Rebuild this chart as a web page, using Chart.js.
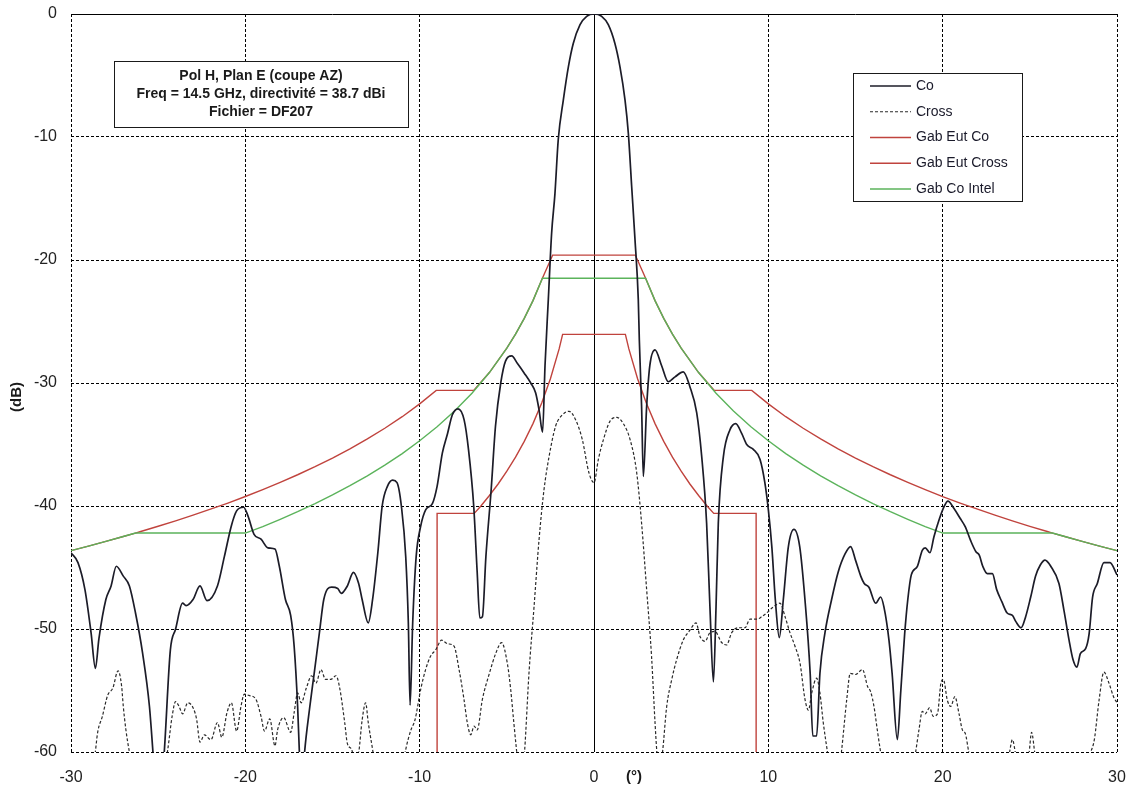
<!DOCTYPE html>
<html>
<head>
<meta charset="utf-8">
<script src="https://cdn.jsdelivr.net/npm/chart.js@4.4.1/dist/chart.umd.min.js"></script>
<style>
    html, body { margin: 0; padding: 0; background: #ffffff; }
    #chartBox { width: 1135px; height: 792px; }
</style>
</head>
<body>
<div id="chartBox"><canvas id="pattern" width="1135" height="792"></canvas></div>
<script>
// Axis ticks
const angleTicks = [-30, -20, -10, 0, 10, 20, 30];
const levelTicks = [-60, -50, -40, -30, -20, -10, 0];

// Measured co-polar pattern (deg, dB)
const coAngle = [
    -30, -29.6, -29.2, -28.85, -28.6, -28.4, -28.0, -27.7, -27.4, -27.0, -26.65, -26.3, -25.9, -25.5, -25.3, -25.0, -24.65,
    -24.3, -24.0, -23.6, -23.4, -23.0, -22.6, -22.2, -21.6, -21.2, -20.8, -20.5, -20.1, -19.85, -19.5, -19.1, -18.7, -18.3,
    -18.05, -17.7, -17.4, -17.2, -17.0, -16.9, -16.75, -16.6, -16.3, -16.05, -15.75, -15.5, -15.05, -14.7, -14.5, -14.15,
    -13.8, -13.5, -13.3, -12.95, -12.7, -12.4, -12.15, -11.85, -11.55, -11.3, -11.05, -10.8, -10.65, -10.55, -10.4, -10.2,
    -9.95, -9.65, -9.27, -9.0, -8.7, -8.4, -8.13, -7.8, -7.45, -7.2, -6.9, -6.7, -6.55, -6.4, -6.2, -5.9, -5.65, -5.35,
    -5.07, -4.72, -4.4, -4.0, -3.63, -3.35, -3.15, -2.95, -2.81, -2.62, -2.43, -2.24, -2.05, -1.76, -1.47, -1.19, -0.8,
    -0.42, 0, 0.44, 0.82, 1.2, 1.49, 1.78, 1.97, 2.16, 2.35, 2.54, 2.6, 2.73, 2.83, 3.02, 3.2, 3.5, 3.88, 4.26, 4.65, 5.12,
    5.5, 5.89, 6.18, 6.46, 6.65, 6.85, 7.0, 7.13, 7.42, 7.8, 8.13, 8.47, 8.76, 9.14, 9.52, 9.8, 10.0, 10.2, 10.4, 10.63,
    10.86, 11.15, 11.47, 11.8, 12.1, 12.4, 12.55, 12.77, 12.96, 13.25, 13.63, 14.0, 14.4, 14.72, 15.0, 15.3, 15.5, 15.77,
    16.16, 16.44, 16.63, 16.92, 17.1, 17.4, 17.6, 17.82, 18.0, 18.2, 18.55, 18.83, 19.0, 19.27, 19.5, 19.8, 20.08, 20.3,
    20.65, 21.0, 21.3, 21.6, 21.9, 22.1, 22.3, 22.56, 22.85, 23.1, 23.4, 23.7, 24.0, 24.2, 24.5, 24.76, 25.05, 25.33, 25.6,
    25.87, 26.2, 26.67, 26.96, 27.25, 27.48, 27.7, 27.9, 28.2, 28.4, 28.6, 28.87, 29.25, 29.6, 30.0
];
const coLevel = [
    -43.8, -44.6, -46.8, -50.3, -53.2, -50.8, -47.6, -46.5, -44.9, -45.7, -46.5, -48.7, -51.9, -56.3, -60, -66, -60,
    -51.7, -50.0, -47.9, -48.1, -47.6, -46.5, -47.7, -46.5, -44.1, -41.6, -40.4, -40.1, -40.8, -42.3, -42.7, -43.4, -43.5,
    -44.9, -47.6, -48.9, -51.4, -56.3, -60, -63, -60, -56.3, -53.6, -50.3, -47.6, -46.6, -46.7, -47.1, -46.5,
    -45.4, -46.3, -47.6, -49.5, -47.6, -43.8, -40.0, -38.4, -37.9, -38.1, -40.0, -44.1, -49.5, -56.2, -49.5, -44.1,
    -41.7, -40.3, -39.8, -38.4, -35.7, -34.1, -32.6, -32.1, -33.0, -35.4, -40.0, -45.4, -49.1, -49.0, -44.1, -38.7, -33.5, -30.0,
    -28.2, -27.8, -28.4, -29.2, -30.0, -30.8, -32.2, -34.0, -28.6, -23.2, -17.8, -14.6, -10.2, -7.0, -4.3, -2.4, -0.87,
    -0.19, 0, -0.19, -0.87, -2.4, -4.3, -7.0, -9.7, -14.0, -18.3, -23.2, -26.5, -31.9, -37.6, -31.9, -28.6, -27.3, -28.6, -29.9, -29.5, -29.1,
    -30.3, -32.4, -36.0, -41.4, -48.2, -54.3, -48.2, -41.4, -36.0, -33.8, -33.3, -34.1, -35.0, -35.4, -36.2, -38.1, -40.3, -43.3, -47.6, -50.7,
    -47.6, -43.3, -41.9, -43.3, -47.6, -53.6, -58.7, -58.7, -53.6, -50.3, -47.6, -45.4, -43.9, -43.3, -44.4, -45.7, -46.3, -46.6,
    -47.9, -47.4, -48.2, -50.9, -53.6, -59.0, -55.0, -50.4, -47.6, -45.6, -44.9, -43.6, -43.4, -43.8, -42.5, -41.1, -40.05, -39.6,
    -40.2, -41.0, -41.7, -42.8, -43.7, -44.0, -44.9, -45.5, -45.5, -46.8, -47.8, -48.7, -48.9, -49.4, -49.9, -49.0, -47.4, -45.7, -44.8,
    -44.4, -44.9, -46.3, -48.5, -50.9, -52.5, -53.1, -52.0, -51.6, -50.4, -47.4, -46.3, -44.6, -44.6, -45.6
];

// Measured cross-polar pattern (deg, dB)
const crossAngle = [
    -30, -28.65, -28.47, -28.2, -27.9, -27.6, -27.3, -27.1, -27.0, -26.85, -26.65, -25.5, -24.45, -24.2, -24.0, -23.8, -23.6,
    -23.3, -23.0, -22.8, -22.6, -22.35, -21.97, -21.6, -21.35, -21.05, -20.8, -20.5, -20.25, -20.06, -19.8, -19.4, -19.1,
    -18.9, -18.6, -18.3, -18.15, -17.8, -17.4, -17.2, -17.0, -16.8, -16.5, -16.2, -15.95, -15.66, -15.4, -15.1, -14.8, -14.6,
    -14.3, -14.15, -13.9, -13.7, -13.5, -13.3, -13.1, -12.95, -12.7, -11.8, -10.8, -10.5, -10.27, -9.94, -9.66, -9.37, -9.08,
    -8.74, -8.4, -8.03, -7.74, -7.46, -7.27, -7.07, -6.88, -6.7, -6.4, -6.0, -5.64, -5.3, -4.97, -4.78, -4.6, -4.44, -4.2,
    -3.98, -3.73, -3.44, -3.15, -2.87, -2.58, -2.2, -1.82, -1.43, -1.05, -0.67, -0.29, 0, 0.25, 0.54, 0.92, 1.3, 1.68, 2.07,
    2.45, 2.73, 3.02, 3.3, 3.5, 3.6, 3.75, 3.94, 4.17, 4.46, 4.74, 5.12, 5.5, 5.85, 6.08, 6.37, 6.65, 6.94, 7.32, 7.6, 7.9,
    8.28, 8.66, 8.95, 9.33, 9.62, 9.9, 10.29, 10.67, 10.96, 11.24, 11.53, 11.82, 12.1, 12.3, 12.49, 12.77, 12.96, 13.15,
    13.38, 13.8, 14.2, 14.5, 14.7, 15.0, 15.4, 15.7, 15.87, 16.06, 16.25, 16.44, 17.4, 18.45, 18.64, 18.83, 19.0, 19.25,
    19.46, 19.7, 19.9, 20.04, 20.27, 20.46, 20.7, 20.94, 21.13, 21.3, 21.5, 22.7, 23.8, 24.0, 24.2, 24.6, 24.95, 25.1, 25.3,
    26.8, 28.5, 28.7, 28.97, 29.25, 29.54, 29.8, 30.0
];
const crossLevel = [
    -68, -60.5, -58.4, -57.1, -55.4, -54.8, -53.4, -54.6, -56.3, -58.2, -60, -68, -59.8, -57.1, -55.9, -56.3, -56.9,
    -56.0, -56.4, -57.3, -59.2, -58.6, -59.0, -57.6, -58.8, -56.8, -56.0, -58.3, -56.3, -55.3, -55.4, -55.7, -57.1,
    -58.3, -57.3, -59.5, -58.2, -57.2, -58.4, -56.8, -55.2, -56.0, -54.8, -53.8, -54.4, -53.3, -54.1, -54.1, -53.8, -54.7,
    -57.6, -59.3, -59.8, -61, -60.1, -57.4, -56.0, -57.6, -59.8, -68, -59.8, -58.2, -57.4, -54.9, -53.3, -52.2, -51.7,
    -50.9, -51.2, -51.4, -53.3, -55.7, -57.6, -58.6, -57.9, -58.2, -55.7, -53.6, -52.0, -51.1, -52.8, -54.9, -57.6, -59.9, -63,
    -59.9, -53.6, -48.2, -42.7, -38.7, -36.0, -33.5, -32.6, -32.3, -33.0, -34.6, -37.3, -38.1, -36.2, -34.6, -33.1, -32.8, -33.3, -34.6,
    -37.3, -41.4, -46.8, -52.2, -57.6, -59.9, -62, -59.9, -56.3, -54.1, -52.5, -50.9, -50.1, -49.5, -50.6, -51.0, -50.3, -50.2, -51.1, -51.3, -50.3,
    -49.9, -49.9, -49.2, -49.2, -49.0, -48.7, -48.2, -47.9, -49.0, -50.3, -51.4, -52.8, -55.7, -56.6, -55.2, -54.0, -55.2, -57.6,
    -59.9, -64, -59.9, -55.7, -53.6, -53.7, -53.3, -54.7, -55.1, -56.3, -58.2, -60, -68, -60, -58.2, -56.7, -56.9, -56.4,
    -57.1, -56.9, -54.4, -54.1, -55.8, -56.3, -55.5, -56.9, -58.2, -58.5, -60, -66, -60.3, -59.0, -60.3, -63, -60.2, -58.4, -60.2,
    -68, -60, -59.0, -55.8, -53.5, -54.4, -55.5, -56.0
];

// Eutelsat co-polar template
const gabEutCoAngle = [
    -30, -29, -28, -27, -26.3, -26, -25, -24, -23, -22, -21, -20, -19, -18, -17, -16, -15, -14, -13, -12, -11, -10, -9.05,
    -6.9, -6, -5, -4.5, -4, -3.5, -2.96, -2.37, 2.37, 2.96, 3.5, 4, 4.5, 5, 6, 6.9,
    9.05, 10, 11, 12, 13, 14, 15, 16, 17, 18, 19, 20, 21, 22, 23, 24, 25, 26, 26.3, 27, 28, 29, 30
];
const gabEutCoLevel = [
    -43.63, -43.26, -42.88, -42.48, -42.2, -42.07, -41.65, -41.21, -40.74, -40.26, -39.76, -39.23, -38.67, -38.08, -37.46,
    -36.8, -36.1, -35.35, -34.55, -33.68, -32.74, -31.7, -30.6,
    -30.6, -29.15, -27.17, -26.03, -24.75, -23.3, -21.48, -19.6, -19.6, -21.48, -23.3, -24.75, -26.03, -27.17, -29.15, -30.6,
    -30.6, -31.7, -32.74, -33.68, -34.55, -35.35, -36.1, -36.8, -37.46, -38.08, -38.67, -39.23, -39.76, -40.26, -40.74,
    -41.21, -41.65, -42.07, -42.2, -42.48, -42.88, -43.26, -43.63
];

// Eutelsat cross-polar template
const gabEutCrossAngle = [
    -9.0, -9.0, -6.87, -6.5, -6, -5.5, -5, -4.5, -4, -3.5, -3, -2.5, -2, -1.8,
    1.8, 2, 2.5, 3, 3.5, 4, 4.5, 5, 5.5, 6, 6.5, 6.87, 9.3, 9.3
];
const gabEutCrossLevel = [
    -60, -40.6, -40.6, -40.02, -39.15, -38.21, -37.17, -36.03, -34.75, -33.3, -31.63, -29.65, -27.23, -26.05,
    -26.05, -27.23, -29.65, -31.63, -33.3, -34.75, -36.03, -37.17, -38.21, -39.15, -40.02, -40.6, -40.6, -60
];

// Intelsat co-polar template
const gabIntelAngle = [
    -30, -29, -28, -27, -26.3, -20, -19, -18, -17, -16, -15, -14, -13, -12, -11, -10, -9, -8, -7, -6, -5, -4.5, -4, -3.5,
    -2.96, 2.96, 3.5, 4, 4.5, 5, 6, 7, 8, 9, 10, 11, 12, 13, 14, 15, 16, 17, 18, 19, 20, 26.3, 27, 28, 29, 30
];
const gabIntelLevel = [
    -43.63, -43.26, -42.88, -42.48, -42.2, -42.2, -41.67, -41.08, -40.46, -39.8, -39.1, -38.35, -37.55, -36.68, -35.74,
    -34.7, -33.56, -32.28, -30.83, -29.15, -27.17, -26.03, -24.75, -23.3, -21.48, -21.48, -23.3, -24.75, -26.03, -27.17,
    -29.15, -30.83, -32.28, -33.56, -34.7, -35.74, -36.68, -37.55, -38.35, -39.1, -39.8, -40.46, -41.08, -41.67, -42.2,
    -42.2, -42.48, -42.88, -43.26, -43.63
];

const infoLines = [
    'Pol H, Plan E (coupe AZ)',
    'Freq = 14.5 GHz, directivité = 38.7 dBi',
    'Fichier = DF207'
];

const FONT = "'Liberation Sans', Arial, sans-serif";
const RED = '#c0433d';
const GREEN = '#5bb35b';

function toPoints(xs, ys) {
    return xs.map((x, i) => ({ x: x, y: ys[i] }));
}

// Legend, info box and axis titles drawn on top
const overlayPlugin = {
    id: 'overlay',
    afterDraw(chart) {
        const ctx = chart.ctx;
        ctx.save();

        // info box
        ctx.fillStyle = '#ffffff';
        ctx.fillRect(114.5, 61.5, 294, 66);
        ctx.strokeStyle = '#1a1a1a';
        ctx.lineWidth = 1;
        ctx.setLineDash([]);
        ctx.strokeRect(114.5, 61.5, 294, 66);
        ctx.fillStyle = '#1a1a1a';
        ctx.font = `bold 14px ${FONT}`;
        ctx.textAlign = 'center';
        ctx.textBaseline = 'middle';
        infoLines.forEach((line, i) => ctx.fillText(line, 261, 76 + i * 18));

        // legend box
        ctx.fillStyle = '#ffffff';
        ctx.fillRect(853.5, 73.5, 169, 128);
        ctx.strokeRect(853.5, 73.5, 169, 128);
        ctx.font = `14px ${FONT}`;
        ctx.textAlign = 'left';
        chart.data.datasets.forEach((ds, i) => {
            const y = 86 + i * 25.75;
            ctx.strokeStyle = ds.borderColor;
            ctx.lineWidth = ds.borderWidth;
            ctx.setLineDash(ds.borderDash || []);
            ctx.beginPath();
            ctx.moveTo(870, y);
            ctx.lineTo(911, y);
            ctx.stroke();
            ctx.fillStyle = '#1a1a2a';
            ctx.fillText(ds.label, 916, y);
        });
        ctx.setLineDash([]);

        // axis titles
        ctx.fillStyle = '#1a1a1a';
        ctx.font = `bold 15px ${FONT}`;
        ctx.textAlign = 'center';
        ctx.fillText('(°)', 634, 777);
        ctx.translate(17, 397);
        ctx.rotate(-Math.PI / 2);
        ctx.fillText('(dB)', 0, 0);

        ctx.restore();
    }
};

function buildChart() {
    const ctx = document.getElementById('pattern').getContext('2d');
    Chart.defaults.font.family = FONT;

    const gridDash = (c) => (c.tick && c.tick.value === 0 ? [] : [3, 2]);

    return new Chart(ctx, {
        type: 'line',
        data: {
            datasets: [
                {
                    label: 'Co',
                    data: toPoints(coAngle, coLevel),
                    borderColor: '#1c1c28',
                    borderWidth: 1.7,
                    cubicInterpolationMode: 'monotone',
                    order: 0
                },
                {
                    label: 'Cross',
                    data: toPoints(crossAngle, crossLevel),
                    borderColor: '#2a2a2a',
                    borderWidth: 1.2,
                    borderDash: [3, 2],
                    cubicInterpolationMode: 'monotone',
                    order: 1
                },
                {
                    label: 'Gab Eut Co',
                    data: toPoints(gabEutCoAngle, gabEutCoLevel),
                    borderColor: RED,
                    borderWidth: 1.4,
                    order: 4
                },
                {
                    label: 'Gab Eut Cross',
                    data: toPoints(gabEutCrossAngle, gabEutCrossLevel),
                    borderColor: RED,
                    borderWidth: 1.4,
                    order: 3
                },
                {
                    label: 'Gab Co Intel',
                    data: toPoints(gabIntelAngle, gabIntelLevel),
                    borderColor: GREEN,
                    borderWidth: 1.4,
                    order: 2
                }
            ]
        },
        options: {
            responsive: false,
            animation: false,
            clip: 0,
            elements: { point: { radius: 0 }, line: { tension: 0 } },
            layout: { padding: { left: 0, top: 14, right: 18, bottom: 0 } },
            plugins: {
                legend: { display: false },
                tooltip: { enabled: false }
            },
            scales: {
                x: {
                    type: 'linear',
                    min: angleTicks[0],
                    max: angleTicks[angleTicks.length - 1],
                    afterBuildTicks: (scale) => { scale.ticks = angleTicks.map(v => ({ value: v })); },
                    afterFit: (scale) => {
                        scale.height = 40;
                        scale.paddingLeft = 0;
                        scale.paddingRight = 0;
                    },
                    grid: { color: '#000000', lineWidth: 1, drawTicks: false },
                    border: { display: false, dash: gridDash },
                    ticks: { color: '#222222', font: { size: 16 }, padding: 16, maxRotation: 0 }
                },
                y: {
                    type: 'linear',
                    min: levelTicks[0],
                    max: levelTicks[levelTicks.length - 1],
                    afterBuildTicks: (scale) => { scale.ticks = levelTicks.map(v => ({ value: v })); },
                    afterFit: (scale) => {
                        scale.width = 71;
                        scale.paddingTop = 0;
                        scale.paddingBottom = 0;
                    },
                    grid: { color: '#000000', lineWidth: 1, drawTicks: false },
                    border: { display: false, dash: gridDash },
                    ticks: { color: '#222222', font: { size: 16 }, padding: 14 }
                }
            }
        },
        plugins: [overlayPlugin]
    });
}

document.addEventListener('DOMContentLoaded', () => {
    buildChart();
});
</script>
</body>
</html>
